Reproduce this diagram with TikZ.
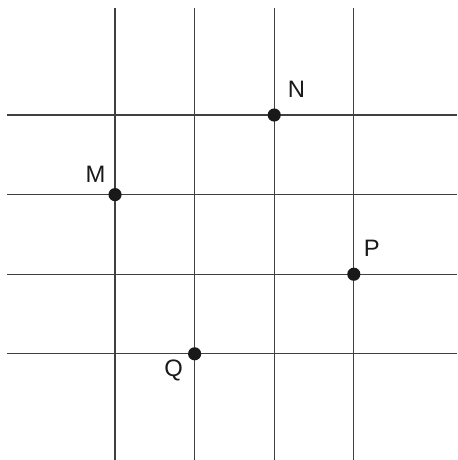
\documentclass[tikz,border=0pt]{standalone}
\usepackage{fontspec}
\setmainfont{Liberation Sans}
\usetikzlibrary{positioning}

\tikzset{
    gridline/.style = {draw = black!75, line width = 0.8pt},
    dot/.style = {circle, fill = black!90, inner sep = 0pt, minimum size = 9.4pt},
    lbl/.style = {inner sep = 0pt, font = \fontsize{17}{20}\selectfont, text = black!90}
}

\begin{document}
\begin{tikzpicture}[x = 2cm, y = 2cm]
    \useasboundingbox (-0.445,0.445) rectangle (5.297,-5.334);

    % grid
    \foreach \i in {1, 2, 3, 4}{
        \draw[gridline] (\i,0.344) -- (\i,-5.334);
        \draw[gridline] (-0.353,-\i) -- (5.297,-\i);
    }

    \begin{scope}[on grid]

        \node (N) at (3,-1) [dot] {};
        \node (M) at (1,-2) [dot] {};
        \node (P) at (4,-3) [dot] {};
        \node (Q) at (2,-4) [dot] {};

        \node (labN) [lbl, above right = 0.64cm and 0.56cm of N] {N};
        \node (labM) [lbl, above left = 0.51cm and 0.49cm of M] {M};
        \node (labP) [lbl, above right = 0.64cm and 0.45cm of P] {P};
        \node (labQ) [lbl, below left = 0.42cm and 0.53cm of Q] {Q};

    \end{scope}

\end{tikzpicture}
\end{document}
